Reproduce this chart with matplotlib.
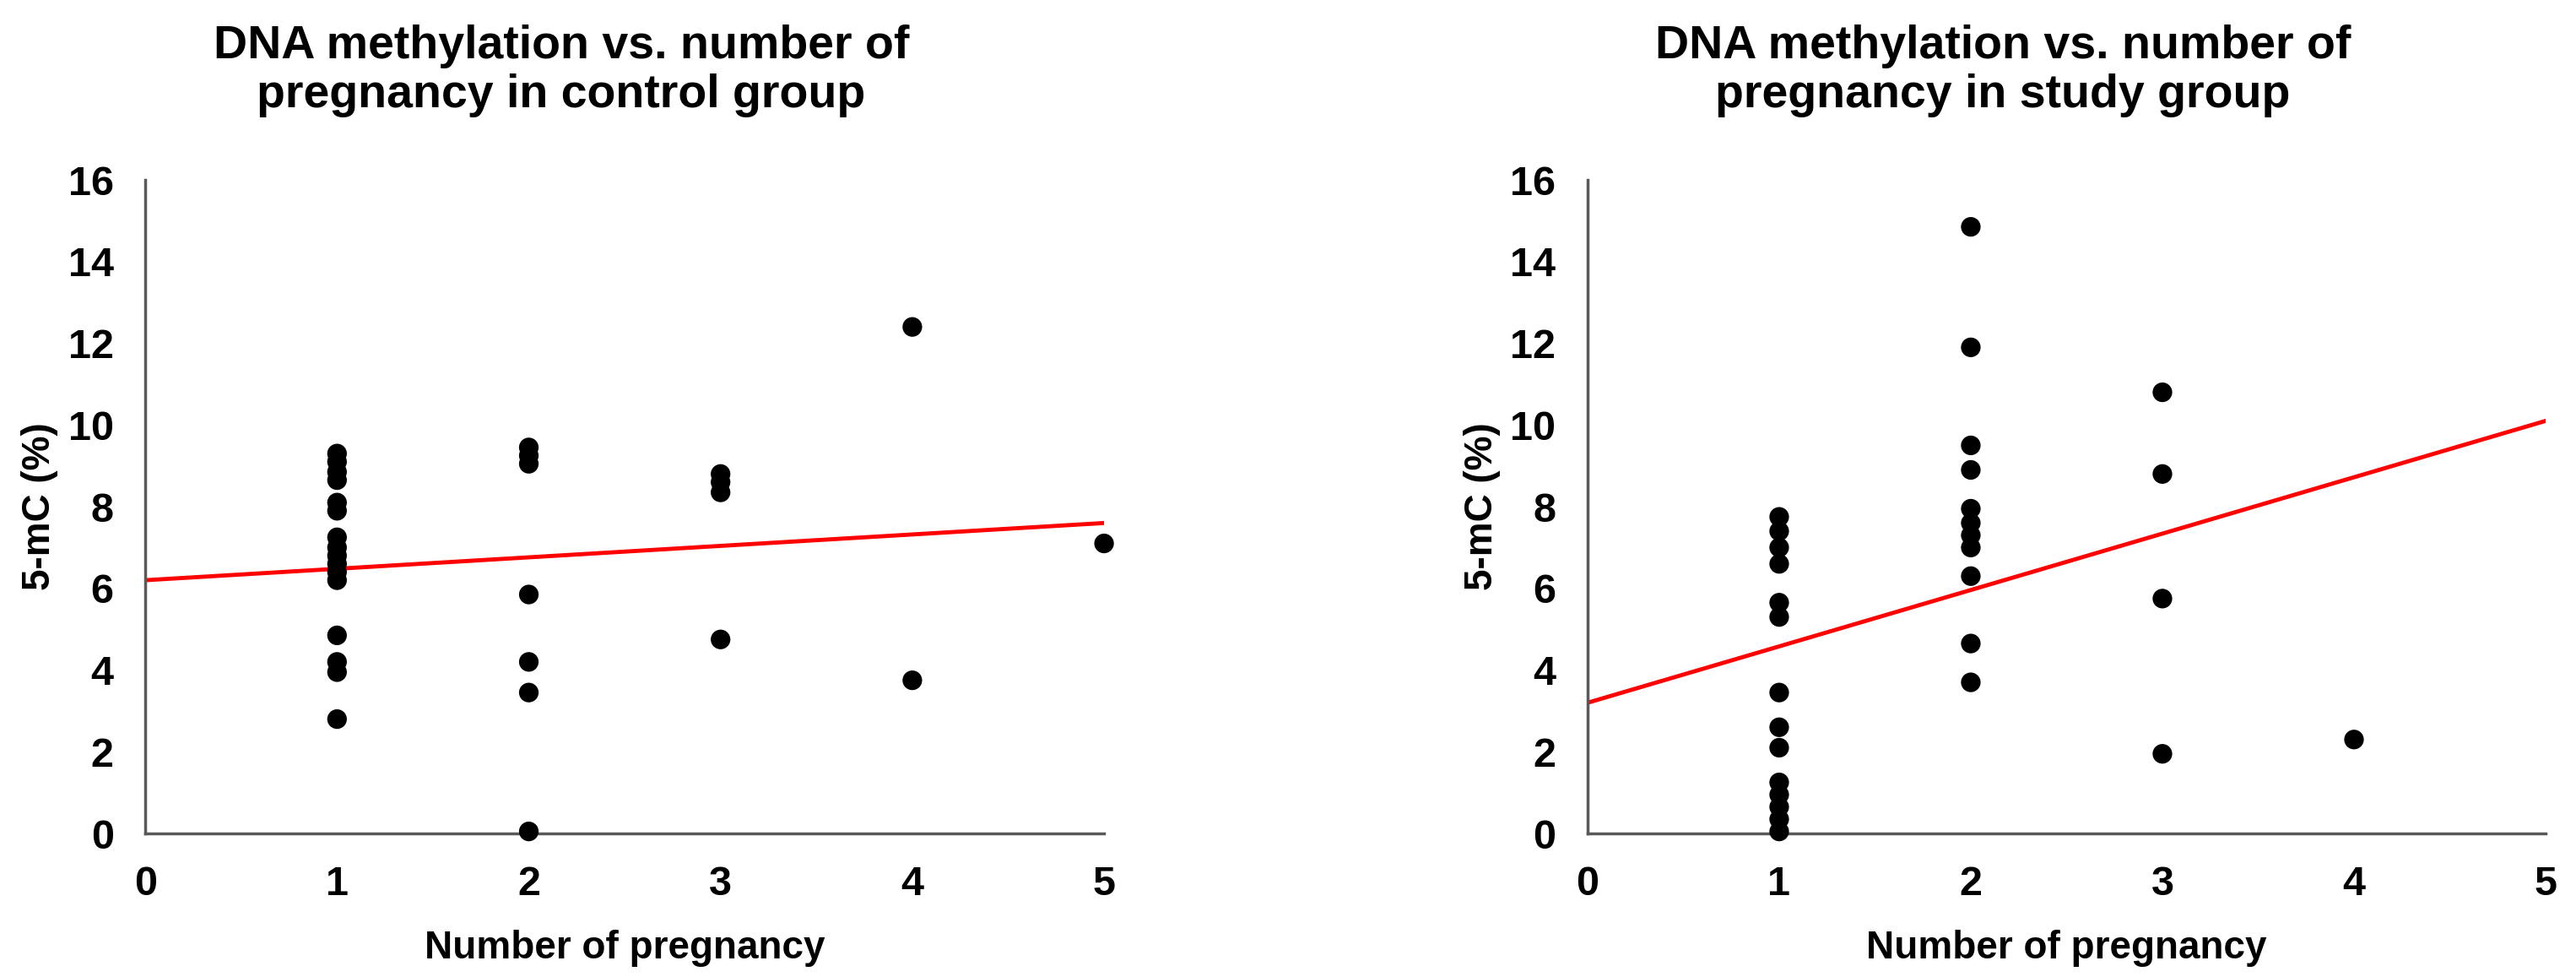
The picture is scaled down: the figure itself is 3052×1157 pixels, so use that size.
import matplotlib
matplotlib.use("Agg")
import matplotlib.pyplot as plt

plt.rcParams['font.family'] = ['Liberation Sans', 'DejaVu Sans']

# Control group: number of pregnancy vs 5-mC (%)
ctrl_x = [1] * 16 + [2] * 7 + [3] * 4 + [4] * 2 + [5]
ctrl_y = [9.3, 9.1, 8.85, 8.65, 8.1, 7.9, 7.25, 7.0, 6.8, 6.6, 6.4, 6.2, 4.85, 4.2, 3.95, 2.8,
          9.45, 9.25, 9.05, 5.85, 4.2, 3.45, 0.05,
          8.8, 8.6, 8.35, 4.75,
          12.4, 3.75,
          7.1]

# Study group
study_x = [1] * 14 + [2] * 11 + [3] * 4 + [4]
study_y = [7.75, 7.4, 7.0, 6.6, 5.65, 5.3, 3.45, 2.6, 2.1, 1.25, 0.95, 0.65, 0.35, 0.05,
           14.85, 11.9, 9.5, 8.9, 7.95, 7.6, 7.3, 7.0, 6.3, 4.65, 3.7,
           10.8, 8.8, 5.75, 1.95,
           2.3]

# Linear trend lines (end points)
trend_x = [0, 5]
ctrl_trend = [6.2, 7.6]
study_trend = [3.2, 10.1]

titles = ["DNA methylation vs. number of\npregnancy in control group",
          "DNA methylation vs. number of\npregnancy in study group"]
xlabel = "Number of pregnancy"
ylabel = "5-mC (%)"
xticks = [0, 1, 2, 3, 4, 5]
yticks = [0, 2, 4, 6, 8, 10, 12, 14, 16]

fig = plt.figure(figsize=(30.52, 11.57), dpi=100)
ax1 = fig.add_axes([0.0564, 0.1469, 0.3722, 0.669])
ax2 = fig.add_axes([0.6163, 0.1469, 0.3719, 0.669])

panels = [(ax1, ctrl_x, ctrl_y, ctrl_trend, titles[0], 665),
          (ax2, study_x, study_y, study_trend, titles[1], 2373)]

for ax, xs, ys, trend, title, title_px in panels:
    ax.plot(trend_x, trend, color='#FF0000', linewidth=3.5, zorder=2)
    ax.scatter(xs, ys, s=280, color='black', edgecolors='none', zorder=3, clip_on=False)
    ax.set_xlim(0, 5)
    ax.set_ylim(0, 16)
    ax.set_xticks(xticks)
    ax.set_yticks(yticks)
    ax.tick_params(length=0, pad=27, labelsize=35)
    for lab in ax.get_xticklabels() + ax.get_yticklabels():
        lab.set_fontweight('bold')
    for side in ['top', 'right']:
        ax.spines[side].set_visible(False)
    for side in ['left', 'bottom']:
        ax.spines[side].set_color('#595959')
        ax.spines[side].set_linewidth(2.5)
    ax.text(0.5, -0.176, xlabel, transform=ax.transAxes, ha='center', va='center',
            fontsize=33, fontweight='bold')
    ax.text(-0.11, 0.5, ylabel, transform=ax.transAxes, ha='center', va='center',
            rotation=90, fontsize=33, fontweight='bold')
    fig.text(title_px / 3052, 1 - 84 / 1157, title, ha='center', va='center',
             fontsize=40, fontweight='bold', linespacing=1.15)

plt.savefig("out.png", dpi=100)
plt.close()
